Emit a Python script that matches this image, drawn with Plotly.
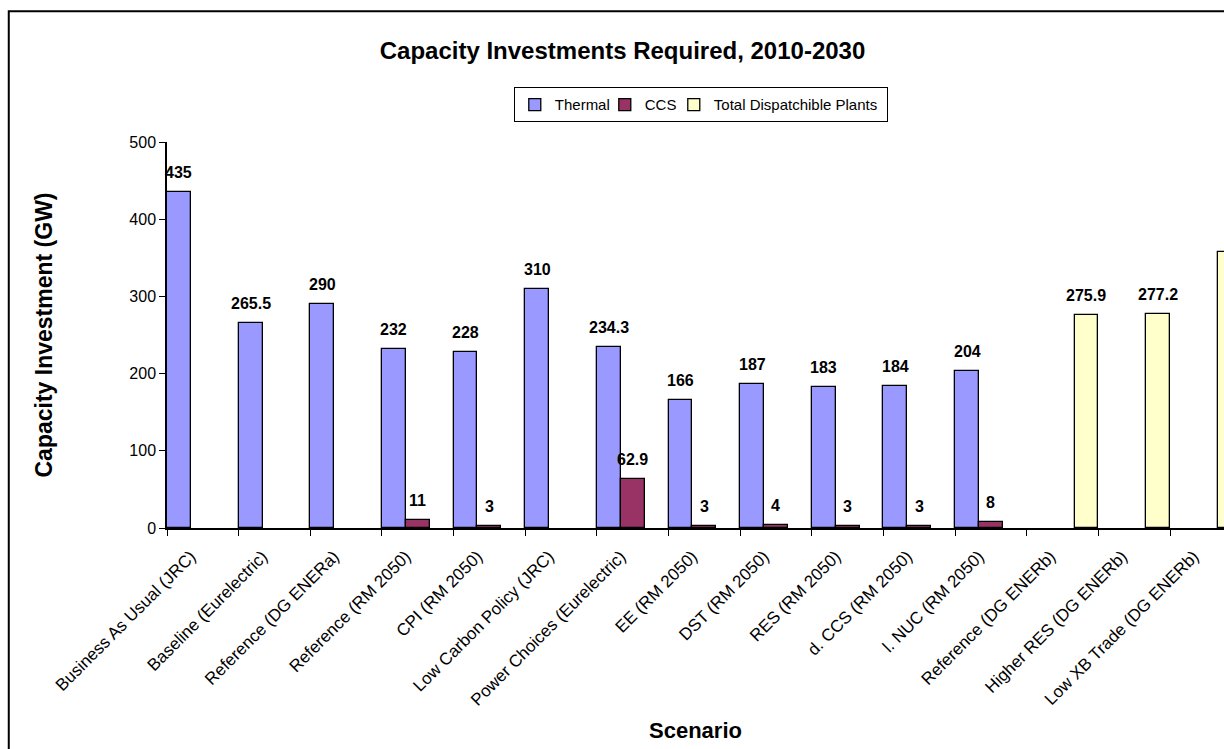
import plotly.graph_objects as go

# Scenario names (x categories)
scenarios = [
    "Business As Usual (JRC)",
    "Baseline (Eurelectric)",
    "Reference (DG ENERa)",
    "Reference (RM 2050)",
    "CPI (RM 2050)",
    "Low Carbon Policy (JRC)",
    "Power Choices (Eurelectric)",
    "EE (RM 2050)",
    "DST (RM 2050)",
    "RES (RM 2050)",
    "d. CCS (RM 2050)",
    "l. NUC (RM 2050)",
    "Reference (DG ENERb)",
    "Higher RES (DG ENERb)",
    "Low XB Trade (DG ENERb)",
]

# Capacity investment in GW per series (None = not reported)
thermal = [435, 265.5, 290, 232, 228, 310, 234.3, 166, 187, 183, 184, 204, None, None, None]
ccs = [None, None, None, 11, 3, None, 62.9, 3, 4, 3, 3, 8, None, None, None]
total_dispatchable = [None] * 12 + [275.9, 277.2, 357.4]

y_ticks = [0, 100, 200, 300, 400, 500]

# name, values, fill colour, legend entry width (px)
series = [
    ("Thermal", thermal, "#9999FF", 45),
    ("CCS", ccs, "#993366", 24),
    ("Total Dispatchible Plants", total_dispatchable, "#FFFFCC", 168),
]

FONT = "Liberation Sans, Arial, sans-serif"

fig = go.Figure()
for name, vals, color, lw in series:
    fig.add_trace(go.Bar(
        name=name,
        x=scenarios,
        y=vals,
        marker=dict(color=color, line=dict(color="#000000", width=1.3)),
        legendwidth=lw,
    ))

# value labels above each bar, placed in the bar's slot within its group
n_series = len(series)
slot = 1.0 / n_series
annotations = []
for k, (name, vals, color, lw) in enumerate(series):
    offset = -0.5 + slot * (k + 0.5)
    for i, v in enumerate(vals):
        if v is None:
            continue
        annotations.append(dict(
            x=i + offset, y=v, xref="x", yref="y",
            text=f"{v:g}", showarrow=False,
            yanchor="bottom", yshift=9,
            font=dict(family=FONT, size=16, color="#000000", weight="bold"),
        ))

fig.update_layout(
    width=1224,
    height=749,
    margin=dict(l=167, r=0, t=142, b=221),
    paper_bgcolor="#FFFFFF",
    plot_bgcolor="#FFFFFF",
    font=dict(family=FONT, size=16, color="#000000"),
    barmode="group",
    bargap=0,
    bargroupgap=0,
    title=dict(
        text="<b>Capacity Investments Required, 2010-2030</b>",
        font=dict(family=FONT, size=24, color="#000000"),
        x=0.5086, xref="container", xanchor="center",
        y=0.933, yref="container", yanchor="middle",
    ),
    legend=dict(
        orientation="h",
        x=0.505, xanchor="center",
        y=1.1416, yanchor="top",
        bordercolor="#000000", borderwidth=1,
        font=dict(family=FONT, size=15),
        itemwidth=30,
        traceorder="normal",
    ),
    annotations=annotations,
    shapes=[dict(
        type="rect", xref="paper", yref="paper",
        x0=-0.1497, x1=1.05, y0=-0.7, y1=1.3387,
        line=dict(color="#000000", width=2),
        fillcolor="rgba(0,0,0,0)",
        layer="below",
    )],
)

fig.update_xaxes(
    type="category",
    range=[-0.5, 14.253],
    tickangle=-45,
    tickson="boundaries",
    ticks="outside", ticklen=6, tickcolor="#000000", tickwidth=1,
    ticklabelstandoff=10, ticklabelshift=-12,
    showline=True, linecolor="#000000", linewidth=1.5,
    showgrid=False, zeroline=False,
    tickfont=dict(family=FONT, size=17),
    title=dict(text="<b>Scenario</b>", font=dict(family=FONT, size=22), standoff=14),
    automargin=False,
)

fig.update_yaxes(
    range=[0, 500],
    tickvals=y_ticks,
    ticks="outside", ticklen=6, tickcolor="#000000", tickwidth=1,
    showline=True, linecolor="#000000", linewidth=1.5,
    showgrid=False, zeroline=False,
    tickfont=dict(family=FONT, size=16),
    title=dict(text="<b>Capacity Investment (GW)</b>", font=dict(family=FONT, size=23), standoff=70),
    automargin=False,
)

fig.write_html("out.html")
